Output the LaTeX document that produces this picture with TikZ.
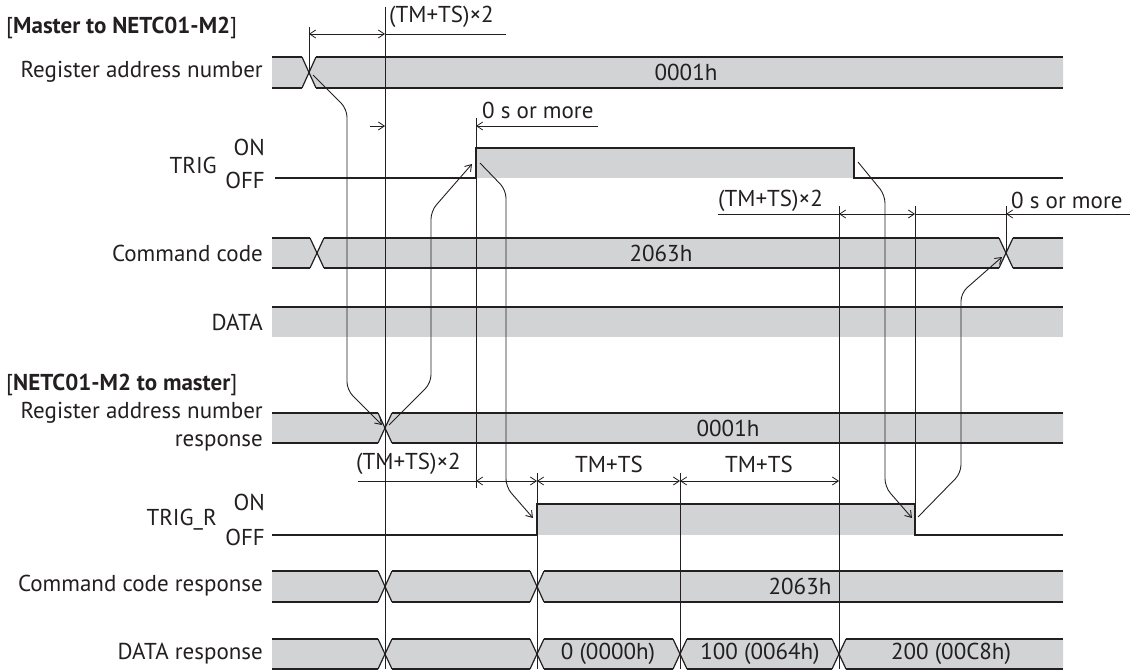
\documentclass[tikz,border=0pt]{standalone}
\usepackage{fontspec}
\setmainfont{PT Sans}
\usetikzlibrary{arrows.meta}
\definecolor{busgray}{HTML}{D1D3D4}
\definecolor{ink}{HTML}{231F20}
\tikzset{
  sig/.style={draw=ink, line width=1.2pt},
  busfill/.style={fill=busgray},
  guide/.style={draw=ink, line width=0.8pt},
  dimline/.style={draw=ink, line width=0.8pt},
  flowarrow/.style={draw=ink, line width=0.9pt, rounded corners=8pt, ->},
  lbl/.style={font=\fontsize{23}{26}\selectfont, inner sep=0pt, text=ink},
  val/.style={font=\fontsize{23}{26}\selectfont, inner sep=0pt, text=ink}
}
% one piece of a bus: x1, x2, top, bottom, left slope, right slope
\newcommand{\busseg}[6]{%
  \fill[busfill] (#1,{(#3+#4)/2}) -- (#1+#5,#3) -- (#2-#6,#3) -- (#2,{(#3+#4)/2}) -- (#2-#6,#4) -- (#1+#5,#4) -- cycle;
  \draw[sig] (#1+#5,#3) -- (#2-#6,#3) (#1+#5,#4) -- (#2-#6,#4);}
\newcommand{\xcross}[3]{\draw[sig] (#1-7,#2) -- (#1+7,#3) (#1-7,#3) -- (#1+7,#2);}

\begin{document}
\begin{tikzpicture}[x=1pt, y=-1pt, >={Straight Barb[length=6pt,width=8pt]}]
  \useasboundingbox (0,0) rectangle (1136,671);

  % bars and levels
  \busseg{272}{309}{57}{88}{0}{7}
  \busseg{309}{1063}{57}{88}{7}{0}
  \fill[busfill] (476,148) rectangle (854,178);
  \busseg{272}{317}{238}{268}{0}{7}
  \busseg{317}{1006}{238}{268}{7}{7}
  \busseg{1006}{1063}{238}{268}{7}{0}
  \fill[busfill] (272,307) rectangle (1063,337);
  \draw[sig] (272,307) -- (1063,307);
  \busseg{272}{385}{413}{443}{0}{7}
  \busseg{385}{1063}{413}{443}{7}{0}
  \fill[busfill] (537,504) rectangle (915,535);
  \busseg{272}{385}{571}{602}{0}{7}
  \busseg{385}{537}{571}{602}{7}{7}
  \busseg{537}{1063}{571}{602}{7}{0}
  \busseg{272}{385}{639}{669}{0}{7}
  \busseg{385}{537}{639}{669}{7}{7}
  \busseg{537}{680}{639}{669}{7}{7}
  \busseg{680}{839}{639}{669}{7}{7}
  \busseg{839}{1063}{639}{669}{7}{0}

  % guide lines
  \draw[guide] (309,27) -- (309,72);
  \draw[guide] (385,7) -- (385,669);
  \draw[guide] (476,118) -- (476,488);
  \draw[guide] (537,473) -- (537,669);
  \draw[guide] (680,473) -- (680,669);
  \draw[guide] (839,206) -- (839,669);
  \draw[guide] (915,206) -- (915,535);
  \draw[guide] (1006,206) -- (1006,254);

  % TRIG and TRIG_R levels, crossings
  \draw[sig] (275,178) -- (476,178) -- (476,148) -- (854,148) -- (854,178) -- (1063,178);
  \draw[sig] (272,535) -- (537,535) -- (537,504) -- (915,504) -- (915,535) -- (1063,535);
  \xcross{309}{57}{88}
  \xcross{317}{238}{268}
  \xcross{1006}{238}{268}
  \xcross{385}{413}{443}
  \xcross{385}{571}{602}
  \xcross{537}{571}{602}
  \xcross{385}{639}{669}
  \xcross{537}{639}{669}
  \xcross{680}{639}{669}
  \xcross{839}{639}{669}

  % dimensions
  \draw[dimline, <->] (309,34) -- (385,34);
  \draw[dimline] (385,34) -- (506,34);
  \draw[dimline, ->] (370,126) -- (385,126);
  \draw[dimline, ->] (598,126) -- (476,126);
  \draw[dimline] (718,214) -- (839,214);
  \draw[dimline, <->] (839,214) -- (915,214);
  \draw[dimline] (915,214) -- (1006,214);
  \draw[dimline, ->] (1130,214) -- (1006,214);
  \draw[dimline] (358,481) -- (476,481);
  \draw[dimline, <->] (476,481) -- (537,481);
  \draw[dimline, <->] (537,481) -- (680,481);
  \draw[dimline, <->] (680,481) -- (839,481);

  % cause and effect
  \coordinate (regx) at (313,75);
  \coordinate (regrxin) at (382,425);
  \coordinate (regrxout) at (389,425);
  \coordinate (trigup) at (472,164);
  \coordinate (trigupout) at (480,163);
  \coordinate (trigrup) at (533,518);
  \coordinate (trigdown) at (858,162);
  \coordinate (trigrdown) at (912,518);
  \coordinate (trigrdownout) at (918,517);
  \coordinate (cmdx) at (1002,257);
  \draw[flowarrow] (regx) -- (347,109) -- (347,390) -- (regrxin);
  \draw[flowarrow] (regrxout) -- (431,383) -- (431,211) -- (trigup);
  \draw[flowarrow] (trigupout) -- (506,190) -- (506,487) -- (trigrup);
  \draw[flowarrow] (trigdown) -- (885,195) -- (885,487) -- (trigrdown);
  \draw[flowarrow] (trigrdownout) -- (961,473) -- (961,293) -- (cmdx);

  % texts
  \node[lbl, anchor=west] (mtitle) at (6,28) {[\textbf{Master to NETC01-M2}]};
  \node[lbl, anchor=east] (lreg) at (263,72) {Register address number};
  \node[lbl, anchor=east] (ltrig) at (217,165) {TRIG};
  \node[lbl, anchor=east] (ltrigon) at (265,147) {ON};
  \node[lbl, anchor=east] (ltrigoff) at (265,180) {OFF};
  \node[lbl, anchor=east] (lcmd) at (263,253) {Command code};
  \node[lbl, anchor=east] (ldata) at (263,322) {DATA};
  \node[lbl, anchor=west] (stitle) at (6,385) {[\textbf{NETC01-M2 to master}]};
  \node[lbl, anchor=east] (lregr) at (263,413) {Register address number};
  \node[lbl, anchor=east] (lregr2) at (263,443) {response};
  \node[lbl, anchor=east] (ltrigr) at (217,520) {TRIG\_R};
  \node[lbl, anchor=east] (ltrigron) at (265,502) {ON};
  \node[lbl, anchor=east] (ltrigroff) at (265,537) {OFF};
  \node[lbl, anchor=east] (lcmdr) at (263,586) {Command code response};
  \node[lbl, anchor=east] (ldatar) at (263,654) {DATA response};

  \node[val] (vreg) at (686,72) {0001h};
  \node[val] (vcmd) at (661,253) {2063h};
  \node[val] (vregr) at (728,428) {0001h};
  \node[val] (vcmdr) at (800,586) {2063h};
  \node[val] (vd0) at (608,654) {0 (0000h)};
  \node[val] (vd1) at (760,654) {100 (0064h)};
  \node[val] (vd2) at (951,654) {200 (00C8h)};

  \node[val, anchor=west] (dtop) at (389,17) {(TM+TS)×2};
  \node[val, anchor=west] (dzero) at (482,110) {0 s or more};
  \node[val, anchor=west] (dmid) at (718,201) {(TM+TS)×2};
  \node[val, anchor=west] (dzero2) at (1011,200) {0 s or more};
  \node[val, anchor=west] (dlow) at (356,464) {(TM+TS)×2};
  \node[val] (dtm1) at (609,464) {TM+TS};
  \node[val] (dtm2) at (759,464) {TM+TS};
\end{tikzpicture}
\end{document}
